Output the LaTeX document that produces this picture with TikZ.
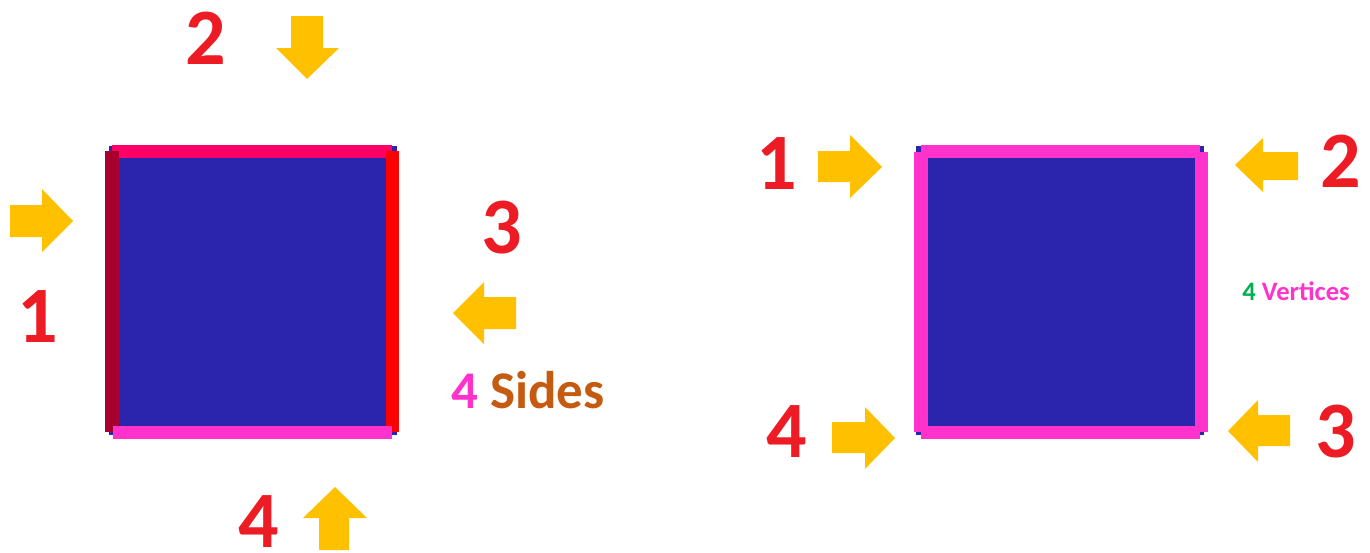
\documentclass[tikz,border=0pt]{standalone}
\usepackage{fontspec}
\setmainfont{Carlito}
\definecolor{sqblue}{HTML}{2B25AE}
\definecolor{topred}{HTML}{FF0066}
\definecolor{darkred}{HTML}{A8002E}
\definecolor{pureRed}{HTML}{FF0000}
\definecolor{pinkbar}{HTML}{FF33CC}
\definecolor{digred}{HTML}{ED1C24}
\definecolor{arrowgold}{HTML}{FFC000}
\definecolor{sidesbrown}{HTML}{C55A11}
\definecolor{vgreen}{HTML}{00B050}
\tikzset{
  digit/.style={anchor=base, inner sep=0pt, text=digred, font=\fontsize{40}{40}\selectfont\bfseries},
  blockarrow/.style={fill=arrowgold, draw=none},
  sqfill/.style={fill=sqblue, draw=none},
}
\begin{document}
\begin{tikzpicture}[x=0.5pt, y=-0.5pt]
\useasboundingbox (0,0) rectangle (1370,552);
% left square
\fill[sqblue] (109,146) rectangle (397,435);
\fill[topred] (112,145) rectangle (392,158);
\fill[darkred] (105,151) rectangle (119,432);
\fill[pureRed] (386,151) rectangle (399,432);
\fill[pinkbar] (113,426) rectangle (392,439);
% right square
\fill[sqblue] (916,146) rectangle (1204,435);
\fill[pinkbar] (921,145) rectangle (1200,158);
\fill[pinkbar] (914,152) rectangle (928,432);
\fill[pinkbar] (1195,152) rectangle (1208,432);
\fill[pinkbar] (921,426) rectangle (1200,439);
% left arrows
\fill[blockarrow] (10,205) -- (42,205) -- (42,189) -- (73,221) -- (42,252) -- (42,237) -- (10,237) -- cycle;
\fill[blockarrow] (291,16) -- (323,16) -- (323,48) -- (339,48) -- (307,79) -- (276,48) -- (291,48) -- cycle;
\fill[blockarrow] (516,297) -- (484,297) -- (484,282) -- (453,313) -- (484,344) -- (484,329) -- (516,329) -- cycle;
\fill[blockarrow] (319,550) -- (319,518) -- (303,518) -- (335,487) -- (367,518) -- (349,518) -- (349,550) -- cycle;
% right arrows
\fill[blockarrow] (818,151) -- (850,151) -- (850,135) -- (882,167) -- (850,198) -- (850,182) -- (818,182) -- cycle;
\fill[blockarrow] (1298,152) -- (1263,152) -- (1263,138) -- (1235,165) -- (1263,192) -- (1263,180) -- (1298,180) -- cycle;
\fill[blockarrow] (1290,415) -- (1258,415) -- (1258,400) -- (1228,431) -- (1258,462) -- (1258,446) -- (1290,446) -- cycle;
\fill[blockarrow] (832,422) -- (865,422) -- (865,407) -- (895,438) -- (865,469) -- (865,453) -- (832,453) -- cycle;
% digits
\node[digit] (l1) at (38,342) {1};
\node[digit] (l2) at (206,64) {2};
\node[digit] (l3) at (502,253) {3};
\node[digit] (l4) at (259,547) {4};
\node[digit] (r1) at (777,189) {1};
\node[digit] (r2) at (1341,187) {2};
\node[digit] (r3) at (1336,457) {3};
\node[digit] (r4) at (787,457) {4};
% labels
\node[anchor=base west, inner sep=0pt, font=\fontsize{26.5}{26.5}\selectfont\bfseries] (sides) at (451,408) {\textcolor{pinkbar}{4} \textcolor{sidesbrown}{Sides}};
\node[anchor=base west, inner sep=0pt, font=\fontsize{13.3}{13.3}\selectfont\bfseries] (verts) at (1242,300) {\textcolor{vgreen}{4} \textcolor{pinkbar}{Vertices}};
\end{tikzpicture}
\end{document}
